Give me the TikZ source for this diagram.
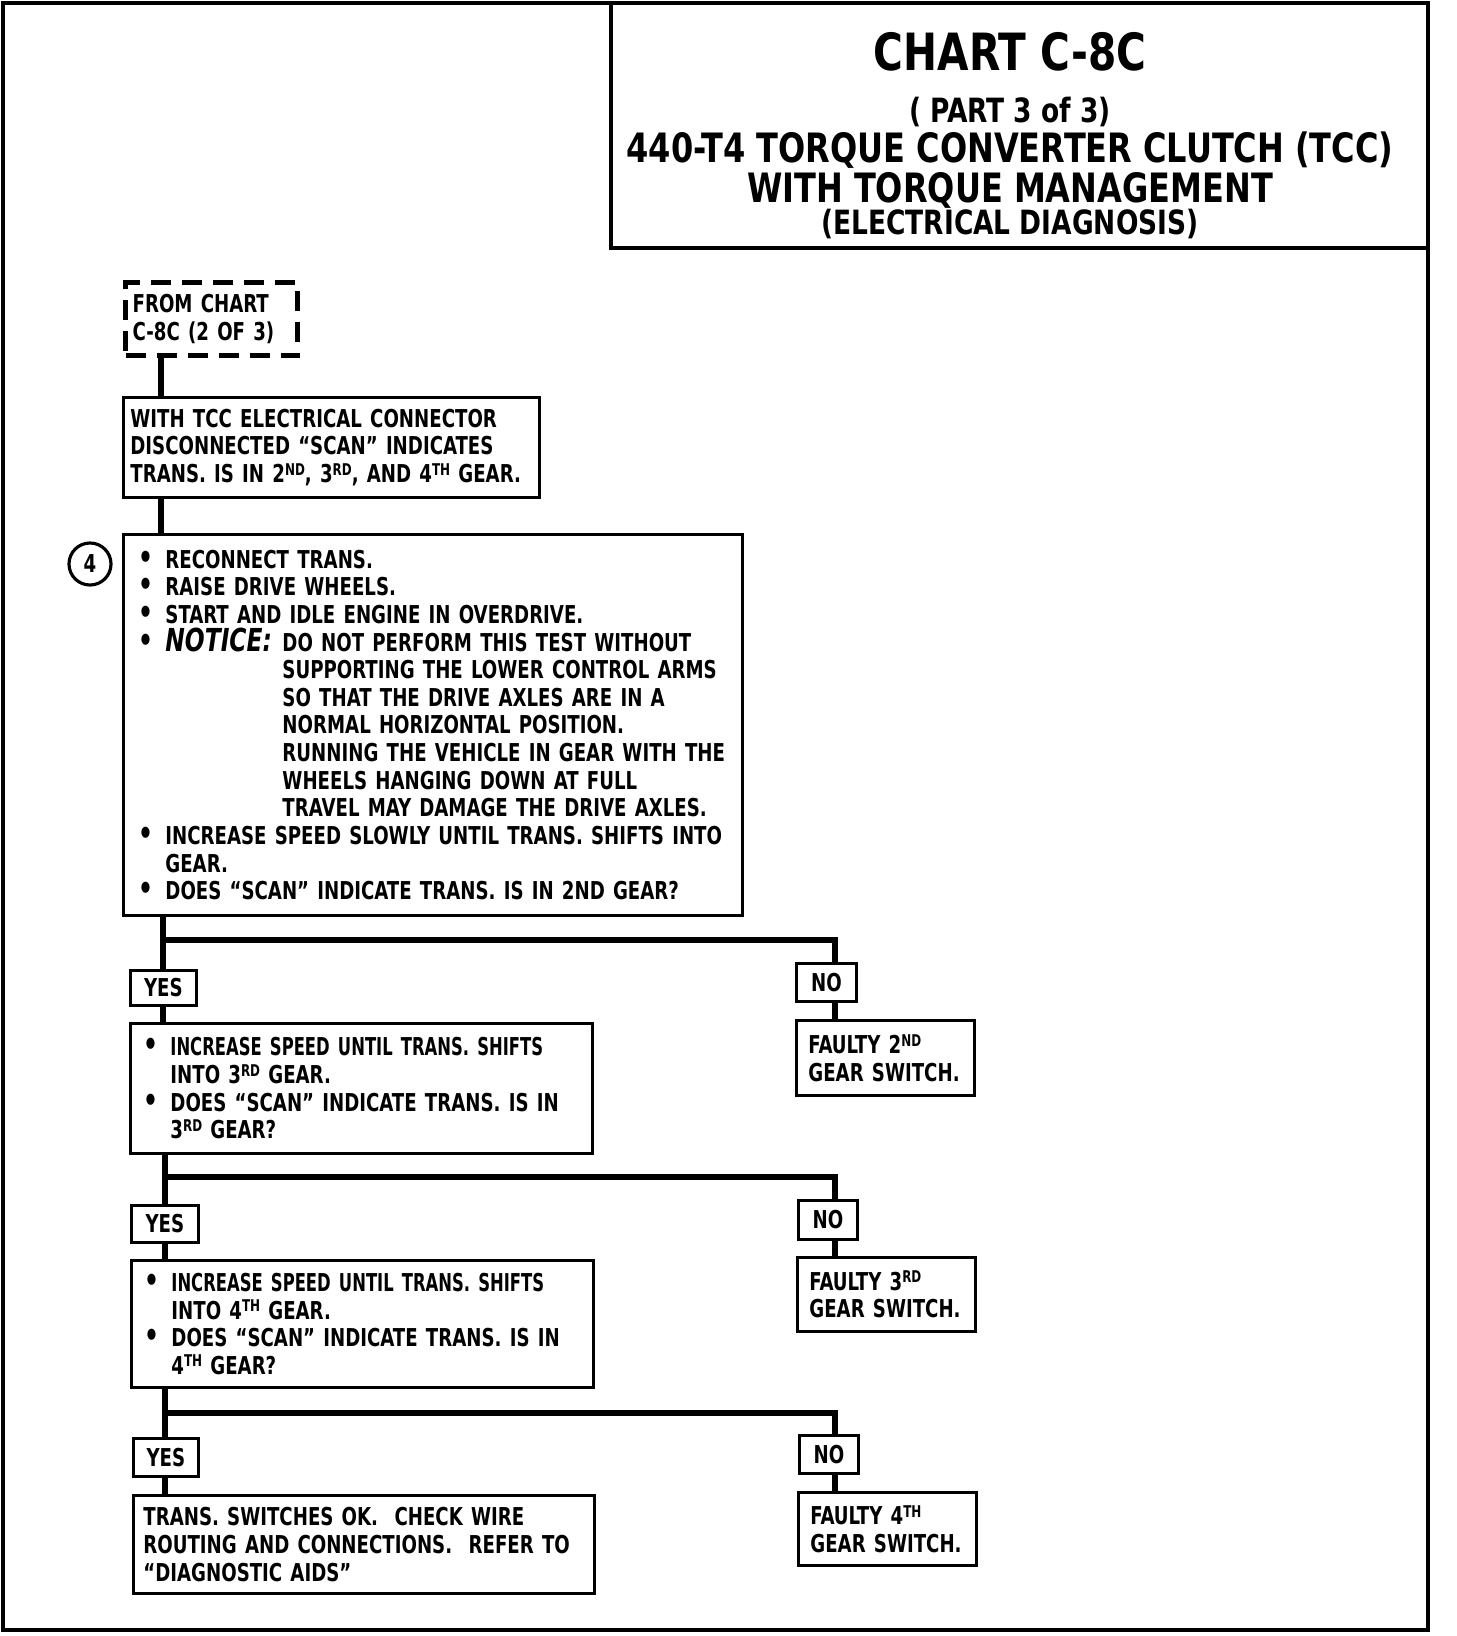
\documentclass[tikz,border=0pt]{standalone}
\usepackage{fontspec}
\setmainfont{DejaVu Sans Condensed}[FakeStretch=0.82]
\newfontfamily\titlefont{DejaVu Sans Condensed}[FakeStretch=0.88]
\newfontfamily\tightfont{DejaVu Sans Condensed}[FakeStretch=0.74]
\usetikzlibrary{positioning,calc}
\newcommand{\bul}{\makebox[0.27cm][l]{\fontsize{9}{7.86}\selectfont\textbullet}}
\newcommand{\hang}{\hspace*{0.27cm}}
\newcommand{\noticeind}{\hspace*{1.44cm}}
\newcommand{\ord}[1]{\raisebox{0.55ex}{\fontsize{4.6}{5}\selectfont#1}}
\newcommand{\shiftline}{{\tightfont\bfseries INCREASE SPEED UNTIL TRANS. SHIFTS}}

\begin{document}
\begin{tikzpicture}[x=0.01cm,y=-0.01cm,
  font=\bfseries\fontsize{7}{7.86}\selectfont,
  box/.style={draw,line width=0.8pt,anchor=north west,align=left,inner ysep=0pt},
  ansbox/.style={draw,line width=0.8pt,anchor=north west,inner sep=0pt},
  fromchart/.style={draw,line width=1.5pt,dash pattern=on 0.2cm off 0.11cm,
                    anchor=north west,align=left,inner ysep=0pt},
  titletxt/.style={anchor=base,inner sep=0pt},
  conn/.style={line width=1.7pt}]
  \useasboundingbox (0,0) rectangle (1456,1636);
  \draw[line width=1.4pt] (3,3) rectangle (1428,1630);
  \draw[line width=1pt] (611,3) rectangle (1428,248);
  \node[titletxt,font=\titlefont\bfseries\fontsize{14.6}{16}\selectfont] (chart) at (1010,70) {CHART C-8C};
  \node[titletxt,font=\titlefont\bfseries\fontsize{9.5}{11}\selectfont] (part) at (1010,122) {( PART 3 of 3)};
  \node[titletxt,font=\titlefont\bfseries\fontsize{11.5}{13}\selectfont] (tcc) at (1010,162) {440-T4 TORQUE CONVERTER CLUTCH (TCC)};
  \node[titletxt,font=\titlefont\bfseries\fontsize{11.5}{13}\selectfont] (mgmt) at (1010,202) {WITH TORQUE MANAGEMENT};
  \node[titletxt,font=\titlefont\bfseries\fontsize{9.5}{11}\selectfont] (diag) at (1010,234) {(ELECTRICAL DIAGNOSIS)};

  \coordinate (trunk) at (161,0);
  \coordinate (notrunk) at (835,0);
  \coordinate (split1) at (163,940);
  \coordinate (split2) at (165,1177);
  \coordinate (split3) at (165,1413);

  \node[fromchart,minimum width=1.72cm,minimum height=0.73cm,text width=1.58cm,inner xsep=0.07cm] (from) at (123,280)
    {FROM CHART\\C-8C\ (2 OF 3)};
  \node[box,minimum height=1.00cm,text width=4.02cm,inner xsep=0.07cm] (disc) at (122,396)
    {WITH TCC ELECTRICAL CONNECTOR\\DISCONNECTED “SCAN” INDICATES\\TRANS. IS IN 2\ord{ND}, 3\ord{RD}, AND 4\ord{TH} GEAR.};
  \node[box,minimum height=3.81cm,text width=5.89cm,inner xsep=0.15cm] (checks) at (122,533)
    {\bul RECONNECT TRANS.\\
     \bul RAISE DRIVE WHEELS.\\
     \bul START AND IDLE ENGINE IN OVERDRIVE.\\
     \bul \makebox[1.17cm][l]{\fontsize{9}{7.86}\selectfont\itshape NOTICE:}DO NOT PERFORM THIS TEST WITHOUT\\
     \noticeind SUPPORTING THE LOWER CONTROL ARMS\\
     \noticeind SO THAT THE DRIVE AXLES ARE IN A\\
     \noticeind NORMAL HORIZONTAL POSITION.\\
     \noticeind RUNNING THE VEHICLE IN GEAR WITH THE\\
     \noticeind WHEELS HANGING DOWN AT FULL\\
     \noticeind TRAVEL MAY DAMAGE THE DRIVE AXLES.\\
     \bul INCREASE SPEED SLOWLY UNTIL TRANS. SHIFTS INTO\\
     \hang GEAR.\\
     \bul DOES “SCAN” INDICATE TRANS. IS IN 2ND GEAR?};
  \node[circle,draw,line width=0.9pt,minimum size=0.42cm,inner sep=0pt] (num4) at (90,564) {4};

  \node[ansbox,minimum width=0.66cm,minimum height=0.35cm] (yes1) at (129,969) {YES};
  \node[ansbox,minimum width=0.60cm,minimum height=0.38cm] (no1) at (795,962) {NO};
  \node[box,minimum height=1.30cm,text width=4.36cm,inner xsep=0.13cm] (third) at (129,1022)
    {\bul \shiftline\\
     \hang INTO 3\ord{RD} GEAR.\\
     \bul DOES “SCAN” INDICATE TRANS. IS IN\\
     \hang 3\ord{RD} GEAR?};
  \node[box,minimum height=0.75cm,text width=1.54cm,inner xsep=0.12cm] (fault2) at (795,1019)
    {FAULTY 2\ord{ND}\\GEAR SWITCH.};

  \node[ansbox,minimum width=0.67cm,minimum height=0.37cm] (yes2) at (130,1204) {YES};
  \node[ansbox,minimum width=0.59cm,minimum height=0.39cm] (no2) at (797,1199) {NO};
  \node[box,minimum height=1.27cm,text width=4.36cm,inner xsep=0.13cm] (fourth) at (130,1259)
    {\bul \shiftline\\
     \hang INTO 4\ord{TH} GEAR.\\
     \bul DOES “SCAN” INDICATE TRANS. IS IN\\
     \hang 4\ord{TH} GEAR?};
  \node[box,minimum height=0.74cm,text width=1.54cm,inner xsep=0.12cm] (fault3) at (796,1256)
    {FAULTY 3\ord{RD}\\GEAR SWITCH.};

  \node[ansbox,minimum width=0.65cm,minimum height=0.38cm] (yes3) at (132,1437) {YES};
  \node[ansbox,minimum width=0.59cm,minimum height=0.38cm] (no3) at (798,1434) {NO};
  \node[box,minimum height=0.98cm,text width=4.41cm,inner xsep=0.10cm] (swok) at (132,1494)
    {TRANS. SWITCHES OK.\ \ CHECK WIRE\\ROUTING AND CONNECTIONS.\ \ REFER TO\\“DIAGNOSTIC AIDS”};
  \node[box,minimum height=0.73cm,text width=1.54cm,inner xsep=0.12cm] (fault4) at (797,1491)
    {FAULTY 4\ord{TH}\\GEAR SWITCH.};

  \draw[conn] (from.south -| trunk) -- (disc.north -| trunk);
  \draw[conn] (disc.south -| trunk) -- (checks.north -| trunk);
  \draw[conn] (checks.south -| split1) -- (yes1.north -| split1);
  \draw[conn] (split1) -- (split1 -| notrunk) -- (no1.north -| notrunk);
  \draw[conn] (yes1.south -| split1) -- (third.north -| split1);
  \draw[conn] (no1.south -| notrunk) -- (fault2.north -| notrunk);
  \draw[conn] (third.south -| split2) -- (yes2.north -| split2);
  \draw[conn] (split2) -- (split2 -| notrunk) -- (no2.north -| notrunk);
  \draw[conn] (yes2.south -| split2) -- (fourth.north -| split2);
  \draw[conn] (no2.south -| notrunk) -- (fault3.north -| notrunk);
  \draw[conn] (fourth.south -| split3) -- (yes3.north -| split3);
  \draw[conn] (split3) -- (split3 -| notrunk) -- (no3.north -| notrunk);
  \draw[conn] (yes3.south -| split3) -- (swok.north -| split3);
  \draw[conn] (no3.south -| notrunk) -- (fault4.north -| notrunk);
\end{tikzpicture}
\end{document}
